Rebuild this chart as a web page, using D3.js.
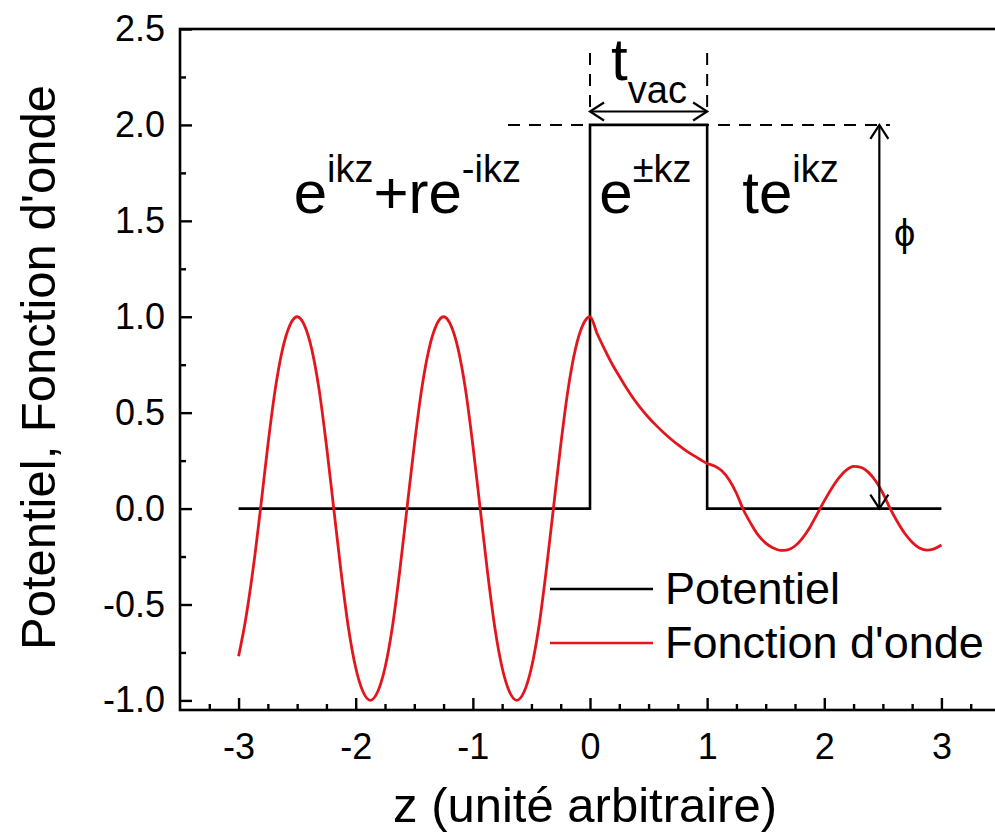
<!DOCTYPE html>
<html><head><meta charset="utf-8">
<script src="https://cdn.jsdelivr.net/npm/d3@7"></script>
<style>
html,body{margin:0;padding:0;background:#fff;}
svg{display:block;}
text{font-family:"Liberation Sans",Arial,Helvetica,sans-serif;fill:#000;}
</style></head>
<body>
<svg id="chart" width="995" height="836"></svg>
<script>
// ---- data ----
const potZ = [-3, 0, 0, 1, 1, 3];
const potV = [0, 0, 2, 2, 0, 0];

const waveZ = [
  -3, -2.9375, -2.875, -2.8125, -2.75, -2.6875, -2.625, -2.5625, -2.5, -2.4375, -2.375, -2.3125,
  -2.25, -2.1875, -2.125, -2.0625, -2, -1.9375, -1.875, -1.8125, -1.75, -1.6875, -1.625, -1.5625,
  -1.5, -1.4375, -1.375, -1.3125, -1.25, -1.1875, -1.125, -1.0625, -1, -0.9375, -0.875, -0.8125,
  -0.75, -0.6875, -0.625, -0.5625, -0.5, -0.4375, -0.375, -0.3125, -0.25, -0.1875, -0.125, -0.0625, 0,
  0.0625, 0.125, 0.1875, 0.25, 0.3125, 0.375, 0.4375, 0.5, 0.5625, 0.625, 0.6875, 0.75, 0.8125, 0.875, 0.9375, 1,
  1.0625, 1.125, 1.1875, 1.25, 1.3125, 1.375, 1.4375, 1.5, 1.5625, 1.625, 1.6875, 1.75, 1.8125, 1.875, 1.9375,
  2, 2.0625, 2.125, 2.1875, 2.25, 2.3125, 2.375, 2.4375, 2.5, 2.5625, 2.625, 2.6875, 2.75, 2.8125, 2.875, 2.9375, 3];
const wavePsi = [
  -0.77, -0.57, -0.31, 0.0, 0.33, 0.62, 0.83, 0.955, 1.0, 0.955, 0.83, 0.62,
  0.33, 0.0, -0.33, -0.62, -0.83, -0.955, -1.0, -0.955, -0.83, -0.62, -0.33, 0.0,
  0.33, 0.62, 0.83, 0.955, 1.0, 0.955, 0.83, 0.62, 0.33, 0.0, -0.33, -0.62,
  -0.83, -0.955, -1.0, -0.955, -0.83, -0.62, -0.33, 0.0, 0.33, 0.62, 0.83, 0.955, 1.0,
  0.91, 0.83, 0.755, 0.69, 0.627, 0.57, 0.52, 0.475, 0.435, 0.398, 0.364, 0.333, 0.305, 0.28, 0.257, 0.235,
  0.222, 0.197, 0.15, 0.08, -0.01, -0.08, -0.14, -0.18, -0.205, -0.218, -0.215, -0.195, -0.155, -0.1, -0.03,
  0.04, 0.105, 0.16, 0.2, 0.22, 0.215, 0.19, 0.145, 0.08, 0.0, -0.07, -0.13, -0.175, -0.205, -0.217, -0.21, -0.19];

const xTicks = [-3, -2, -1, 0, 1, 2, 3];
const xTickLabels = ["-3", "-2", "-1", "0", "1", "2", "3"];
const yTicks = [-1, -0.5, 0, 0.5, 1, 1.5, 2, 2.5];
const yTickLabels = ["-1.0", "-0.5", "0.0", "0.5", "1.0", "1.5", "2.0", "2.5"];
const xMinor = [-3.25, -2.75, -2.5, -2.25, -1.75, -1.5, -1.25, -0.75, -0.5, -0.25, 0.25, 0.5, 0.75, 1.25, 1.5, 1.75, 2.25, 2.5, 2.75, 3.25];
const yMinor = [-0.75, -0.25, 0.25, 0.75, 1.25, 1.75, 2.25];

const seriesNames = ["Potentiel", "Fonction d'onde"];
const seriesColors = ["#000000", "#e2161c"];
const xTitle = "z (unité arbitraire)";
const yTitle = "Potentiel, Fonction d'onde";

// ---- layout ----
const svg = d3.select("#chart");
const L = 180, R = 1000, T = 29, B = 710;
const x = d3.scaleLinear().domain([-3.5, 3.5]).range([L, R]);
const y = d3.scaleLinear().domain([-1.05, 2.5]).range([B, T]);

// frame
svg.append("rect").attr("x", L).attr("y", T).attr("width", R - L).attr("height", B - T)
  .attr("fill", "none").attr("stroke", "#000").attr("stroke-width", 2.6);

// axes
const xAxis = svg.append("g").attr("transform", `translate(0,${B})`)
  .call(d3.axisBottom(x).tickValues(xTicks).tickSizeInner(-12).tickSizeOuter(0).tickPadding(23)
    .tickFormat((d, i) => xTickLabels[i]));
const xAxisMinor = svg.append("g").attr("transform", `translate(0,${B})`)
  .call(d3.axisBottom(x).tickValues(xMinor).tickSizeInner(-6).tickSizeOuter(0).tickFormat(""));
const yAxis = svg.append("g").attr("transform", `translate(${L},0)`)
  .call(d3.axisLeft(y).tickValues(yTicks).tickSizeInner(-12).tickSizeOuter(0).tickPadding(15)
    .tickFormat((d, i) => yTickLabels[i]));
const yAxisMinor = svg.append("g").attr("transform", `translate(${L},0)`)
  .call(d3.axisLeft(y).tickValues(yMinor).tickSizeInner(-6).tickSizeOuter(0).tickFormat(""));
[xAxis, xAxisMinor, yAxis, yAxisMinor].forEach(g => {
  g.attr("font-size", 36).attr("font-family", "Liberation Sans, Arial, sans-serif");
  g.select(".domain").remove();
  g.selectAll("line").attr("stroke", "#000").attr("stroke-width", 2.4);
  g.selectAll("text").attr("font-size", 36).attr("fill", "#000");
});

// axis titles
svg.append("text").attr("x", (L + R) / 2 - 5).attr("y", 822).attr("text-anchor", "middle")
  .attr("font-size", 49).text(xTitle);
svg.append("text").attr("transform", `translate(55,${(T + B) / 2 - 2}) rotate(-90)`).attr("text-anchor", "middle")
  .attr("font-size", 49).text(yTitle);

// dashed guides
const dash = "12,9";
svg.append("line").attr("x1", x(-0.7)).attr("x2", x(2.56)).attr("y1", y(2)).attr("y2", y(2))
  .attr("stroke", "#000").attr("stroke-width", 2).attr("stroke-dasharray", dash);
[0, 1].forEach(v => {
  svg.append("line").attr("x1", x(v)).attr("x2", x(v)).attr("y1", y(2.375)).attr("y2", y(2.05))
    .attr("stroke", "#000").attr("stroke-width", 2).attr("stroke-dasharray", dash);
});

// potential
const potData = potZ.map((z, i) => [z, potV[i]]);
svg.append("path").datum(potData)
  .attr("d", d3.line().x(d => x(d[0])).y(d => y(d[1])))
  .attr("fill", "none").attr("stroke", seriesColors[0]).attr("stroke-width", 2.6);

// wave function
const waveData = waveZ.map((z, i) => [z, wavePsi[i]]);
svg.append("path").datum(waveData)
  .attr("d", d3.line().x(d => x(d[0])).y(d => y(d[1])).curve(d3.curveMonotoneX))
  .attr("fill", "none").attr("stroke", seriesColors[1]).attr("stroke-width", 2.8);

// arrows (open heads)
function openHead(px, py, dx, dy) {
  const len = 14, spread = 9;
  const nx = -dy, ny = dx;
  const p = d3.path();
  p.moveTo(px - dx * len + nx * spread, py - dy * len + ny * spread);
  p.lineTo(px, py);
  p.lineTo(px - dx * len - nx * spread, py - dy * len - ny * spread);
  svg.append("path").attr("d", p.toString()).attr("fill", "none").attr("stroke", "#000").attr("stroke-width", 2.2);
}
const ay = y(2.07);
svg.append("line").attr("x1", x(0)).attr("x2", x(1)).attr("y1", ay).attr("y2", ay).attr("stroke", "#000").attr("stroke-width", 2.2);
openHead(x(0), ay, -1, 0);
openHead(x(1), ay, 1, 0);
const ax = x(2.47);
svg.append("line").attr("x1", ax).attr("x2", ax).attr("y1", y(2)).attr("y2", y(0)).attr("stroke", "#000").attr("stroke-width", 2.2);
openHead(ax, y(2), 0, -1);
openHead(ax, y(0), 0, 1);

// annotations
function formula(zx, vy, parts) {
  const t = svg.append("text").attr("x", x(zx)).attr("y", y(vy));
  let cur = 0;
  parts.forEach(([s, mode]) => {
    const target = mode === "sup" ? -31 : (mode === "sub" ? 23 : 0);
    const size = mode ? 38 : 60;
    t.append("tspan").attr("dy", target - cur).attr("font-size", size).text(s);
    cur = target;
  });
  return t;
}
formula(-2.53, 1.54, [["e", ""], ["ikz", "sup"], ["+re", ""], ["-ikz", "sup"]]);
formula(0.08, 1.54, [["e", ""], ["±kz", "sup"]]);
formula(1.3, 1.54, [["te", ""], ["ikz", "sup"]]);
formula(0.18, 2.235, [["t", ""], ["vac", "sub"]]);
svg.append("text").attr("x", x(2.595)).attr("y", y(1.37)).attr("font-size", 38)
  .attr("font-family", "DejaVu Sans").text("ϕ");

// legend
const legY = [589, 643];
seriesNames.forEach((n, i) => {
  svg.append("line").attr("x1", 550).attr("x2", 653).attr("y1", legY[i]).attr("y2", legY[i])
    .attr("stroke", seriesColors[i]).attr("stroke-width", 2.6);
  svg.append("text").attr("x", 665).attr("y", legY[i] + 15).attr("font-size", 45).text(n);
});
</script>
</body></html>
